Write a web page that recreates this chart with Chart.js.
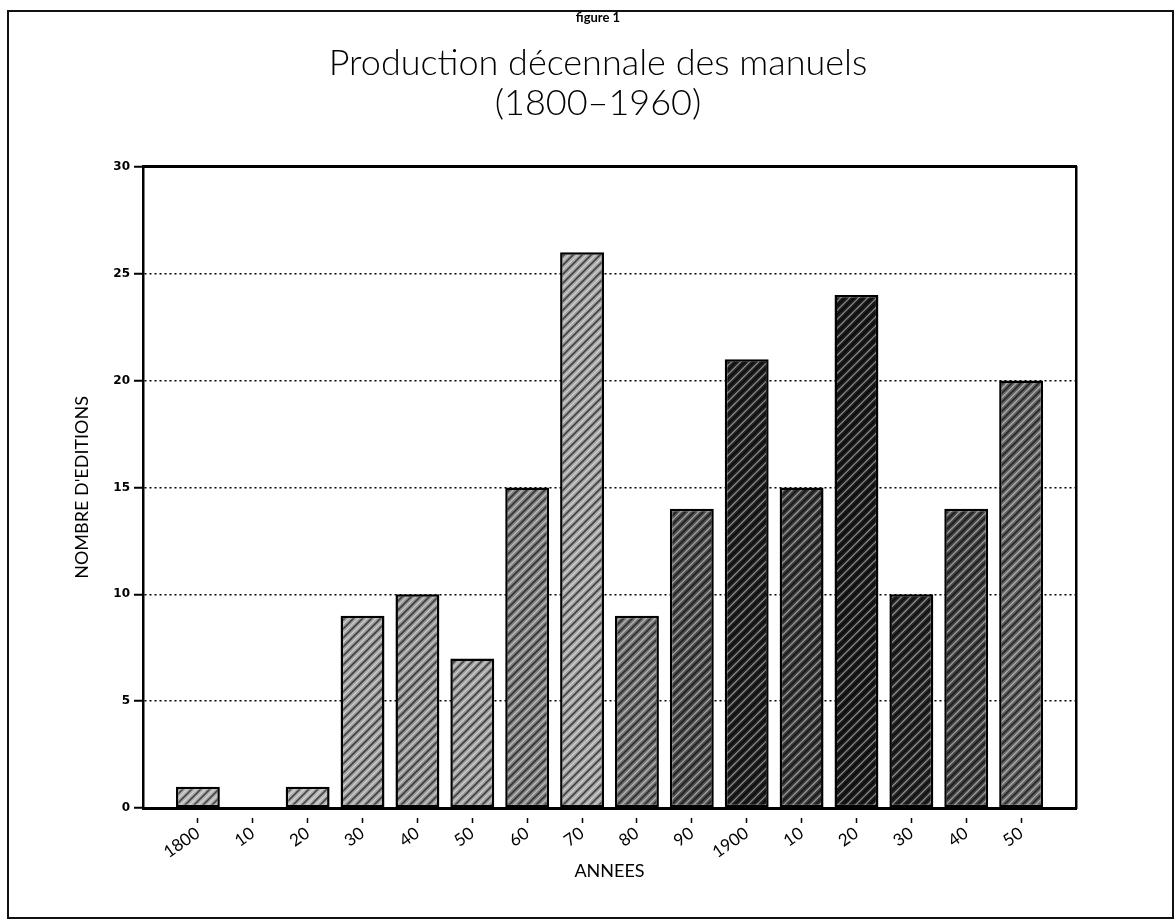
<!DOCTYPE html>
<html>
<head>
<meta charset="utf-8">
<title>Production décennale des manuels</title>
<script src="https://cdn.jsdelivr.net/npm/chart.js@4.4.1/dist/chart.umd.min.js"></script>
<style>
    html, body { margin: 0; padding: 0; background: #fff; }
    #wrap { position: relative; width: 1176px; height: 921px; }
    #frame {
        position: absolute; left: 7px; top: 10px; width: 1163px; height: 905px;
        border: 2px solid #111; pointer-events: none;
    }
</style>
</head>
<body>
<div id="wrap">
    <canvas id="chart" width="1176" height="921"></canvas>
    <div id="frame"></div>
</div>
<script>
// decades (x axis labels)
const decades = ['1800', '10', '20', '30', '40', '50', '60', '70', '80', '90',
                 '1900', '10', '20', '30', '40', '50'];
// number of editions per decade
const editions = [1, 0, 1, 9, 10, 7, 15, 26, 9, 14, 21, 15, 24, 10, 14, 20];
// y axis
const yTicks = [0, 5, 10, 15, 20, 25, 30];

// grey level of each bar's hatch (scan is darker in the 1900s)
const greys = [175, 175, 175, 160, 150, 160, 130, 165, 115, 80, 35, 60, 30, 40, 70, 100];

function makeHatch(grey) {
    const c = document.createElement('canvas');
    c.width = 9; c.height = 9;
    const g = c.getContext('2d');
    g.fillStyle = `rgb(${grey},${grey},${grey})`;
    g.fillRect(0, 0, 9, 9);
    // dark diagonal strokes
    g.strokeStyle = 'rgba(0,0,0,0.6)';
    g.lineWidth = 1.6;
    g.beginPath();
    g.moveTo(-1, 10); g.lineTo(10, -1);
    g.moveTo(-1, 1); g.lineTo(1, -1);
    g.moveTo(8, 10); g.lineTo(10, 8);
    g.stroke();
    // light strokes in between
    g.strokeStyle = 'rgba(255,255,255,0.5)';
    g.lineWidth = 1.2;
    g.beginPath();
    g.moveTo(-1, 5.5); g.lineTo(5.5, -1);
    g.moveTo(3.5, 10); g.lineTo(10, 3.5);
    g.stroke();
    return g.createPattern(c, 'repeat');
}

const ctx = document.getElementById('chart').getContext('2d');
const fills = greys.map(makeHatch);
const points = editions.map((v, i) => ({ x: i, y: v }));

const font = "Lato, 'DejaVu Sans', sans-serif";

new Chart(ctx, {
    type: 'bar',
    data: {
        datasets: [{
            data: points,
            backgroundColor: fills,
            borderColor: '#000',
            borderWidth: 2.5,
            borderSkipped: false,
            barPercentage: 0.8,
            categoryPercentage: 1.0
        }]
    },
    options: {
        responsive: false,
        animation: false,
        layout: { padding: { left: 20, right: 0, top: 0, bottom: 0 } },
        plugins: {
            legend: { display: false },
            tooltip: { enabled: false },
            title: {
                display: true,
                text: 'figure 1',
                color: '#000',
                font: { family: font, size: 13, weight: 'bold' },
                padding: { top: 10, bottom: 18 }
            },
            subtitle: {
                display: true,
                text: ['Production décennale des manuels', '(1800–1960)'],
                color: '#000',
                font: { family: font, size: 36, weight: 300, lineHeight: 1.1 },
                padding: { top: 0, bottom: 44 }
            }
        },
        scales: {
            x: {
                type: 'linear',
                position: 'bottom',
                min: -1,
                max: 16,
                offset: false,
                afterFit: s => { s.height = 113; },
                afterBuildTicks: s => { s.ticks = decades.map((d, i) => ({ value: i })); },
                ticks: {
                    autoSkip: false,
                    minRotation: 35,
                    maxRotation: 35,
                    padding: 0,
                    color: '#000',
                    font: { family: font, size: 17 },
                    callback: v => decades[v] ?? ''
                },
                grid: {
                    offset: false,
                    drawOnChartArea: false,
                    drawTicks: true,
                    tickLength: 15,
                    tickColor: '#000',
                    tickWidth: 1.5,
                    tickBorderDash: [0, 8, 6, 100]
                },
                border: { display: true, color: '#000', width: 3 },
                title: {
                    display: true,
                    text: 'ANNEES',
                    color: '#000',
                    font: { family: font, size: 18 },
                    padding: { top: 0, bottom: 39 }
                }
            },
            xTop: {
                type: 'linear',
                position: 'top',
                afterFit: s => { s.height = 0; },
                ticks: { display: false },
                grid: { display: false },
                border: { display: true, color: '#000', width: 3 }
            },
            y: {
                min: 0,
                max: 30,
                afterFit: s => { s.width = 123; },
                afterBuildTicks: s => { s.ticks = yTicks.map(v => ({ value: v })); },
                ticks: {
                    padding: 4,
                    color: '#000',
                    font: { family: "'DejaVu Sans', sans-serif", size: 12, weight: 'bold' }
                },
                grid: {
                    color: c => (c.tick.value === 0 || c.tick.value === 30) ? 'rgba(0,0,0,0)' : '#000',
                    lineWidth: 1.5,
                    tickLength: 9,
                    tickColor: '#000',
                    tickWidth: 2,
                    tickBorderDash: []
                },
                border: { display: true, color: '#000', width: 2.5, dash: [2, 3] },
                title: {
                    display: true,
                    text: "NOMBRE D'EDITIONS",
                    color: '#000',
                    font: { family: font, size: 18 },
                    padding: { top: 51, bottom: 0 }
                }
            },
            yRight: {
                type: 'linear',
                position: 'right',
                afterFit: s => { s.width = 100; },
                ticks: { display: false },
                grid: { display: false },
                border: { display: true, color: '#000', width: 2.5 }
            }
        }
    }
});
</script>
</body>
</html>
